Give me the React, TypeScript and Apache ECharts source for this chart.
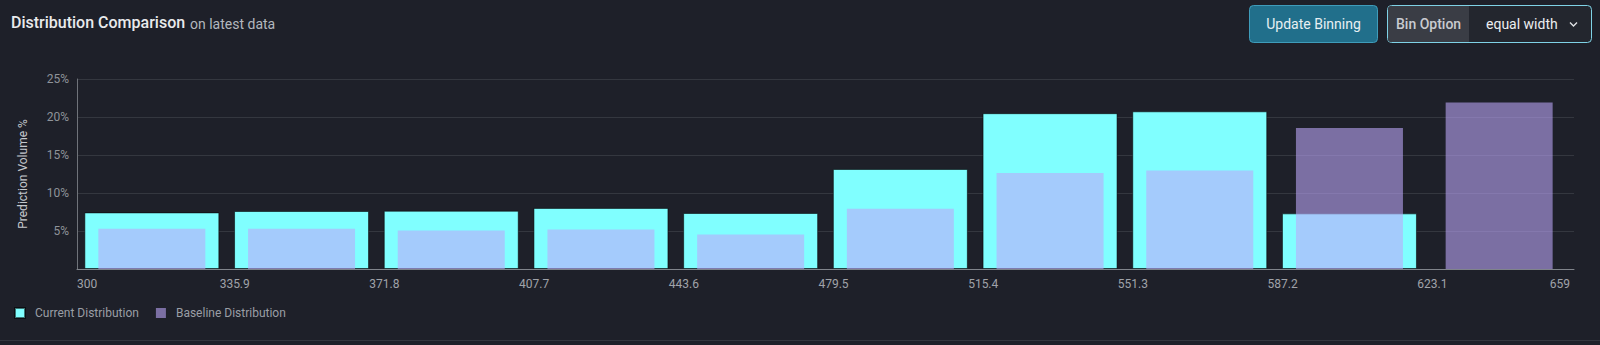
import React, { useEffect, useRef } from 'react';
import * as echarts from 'echarts';

const binEdges = ['300', '335.9', '371.8', '407.7', '443.6', '479.5', '515.4', '551.3', '587.2', '623.1', '659'];
const binCategories = binEdges.slice(0, -1).map((e, i) => `${e} - ${binEdges[i + 1]}`);
const currentValues = [7.45, 7.63, 7.67, 8.04, 7.37, 13.16, 20.5, 20.75, 7.32, 0];
const baselineValues = [5.3, 5.3, 5.08, 5.2, 4.54, 7.93, 12.63, 12.97, 18.55, 21.92];
const yMin = 0;
const yMax = 25;
const yInterval = 5;

const FONT = 'Roboto, "Noto Sans", sans-serif';
const BG = '#1e2029';

export default function App() {
  const ref = useRef<HTMLDivElement>(null);

  useEffect(() => {
    document.body.style.margin = '0';
    document.body.style.background = BG;
    const chart = echarts.init(ref.current!, undefined, { renderer: 'svg' });
    const lastIdx = binEdges.length - 1;
    chart.setOption({
      animation: false,
      backgroundColor: BG,
      textStyle: { fontFamily: FONT },
      grid: { left: 77, right: 26, top: 79, bottom: 76, containLabel: false },
      legend: {
        left: 14,
        top: 307,
        padding: 0,
        icon: 'rect',
        itemWidth: 10,
        itemHeight: 10,
        itemGap: 17,
        selectedMode: false,
        textStyle: { color: '#9a9ea5', fontSize: 12, fontFamily: FONT, padding: [0, 0, 0, 5] },
        data: ['Current Distribution', 'Baseline Distribution'],
      },
      xAxis: [
        { type: 'category', data: binCategories, show: false, position: 'bottom' },
        { type: 'category', data: binCategories, show: false, position: 'bottom' },
        {
          type: 'value',
          position: 'bottom',
          min: 0,
          max: lastIdx,
          interval: 1,
          axisLine: { show: true, lineStyle: { color: '#80848b', width: 1 } },
          axisTick: { show: false },
          splitLine: { show: false },
          axisLabel: {
            margin: 9,
            color: '#a0a3a9',
            fontSize: 12,
            fontFamily: FONT,
            alignMinLabel: 'left',
            alignMaxLabel: 'right',
            formatter: (v: number) => {
              const t = binEdges[Math.round(v)] ?? '';
              if (v === 0) return `{e|${t}}`;
              if (v === lastIdx) return `{r|${t}}`;
              return `{m|${t}}`;
            },
            rich: {
              e: { color: '#a0a3a9', fontSize: 12, fontFamily: FONT },
              r: { color: '#a0a3a9', fontSize: 12, fontFamily: FONT, padding: [0, 4, 0, 0] },
              m: { color: '#a0a3a9', fontSize: 12, fontFamily: FONT, padding: [0, 0, 0, 16] },
            },
          },
        },
      ],
      yAxis: [
        {
          type: 'value',
          min: yMin,
          max: yMax,
          interval: yInterval,
          name: 'Prediction Volume %',
          nameLocation: 'middle',
          nameGap: 48,
          nameTextStyle: { color: '#c5c8cd', fontSize: 12, fontFamily: FONT },
          axisLine: { show: false },
          axisTick: { show: false },
          splitLine: { show: true, lineStyle: { color: '#34373f', width: 1 } },
          axisLabel: {
            margin: 8,
            color: '#8f9399',
            fontSize: 12,
            fontFamily: FONT,
            formatter: '{value}%',
            showMinLabel: false,
          },
        },
        {
          type: 'value',
          min: 0,
          max: 25.8,
          position: 'left',
          axisLine: { show: true, lineStyle: { color: '#6f737a', width: 1 } },
          axisTick: { show: false },
          axisLabel: { show: false },
          splitLine: { show: false },
        },
      ],
      series: [
        {
          name: 'Current Distribution',
          type: 'bar',
          xAxisIndex: 0,
          yAxisIndex: 0,
          barWidth: 135,
          itemStyle: { color: '#80ffff', borderColor: 'rgba(0,0,0,0.55)', borderWidth: 1 },
          data: currentValues.map((v) => (v === 0 ? { value: v, itemStyle: { borderWidth: 0 } } : v)),
        },
        {
          name: 'Baseline Distribution',
          type: 'bar',
          xAxisIndex: 1,
          yAxisIndex: 0,
          barWidth: 107,
          itemStyle: { color: 'rgba(188,166,250,0.59)' },
          data: baselineValues,
        },
      ],
      graphic: [
        {
          type: 'text',
          left: 11,
          top: 14.5,
          style: { text: 'Distribution Comparison', fill: '#e9eaec', font: `500 16px ${FONT}` },
        },
        {
          type: 'text',
          left: 190,
          top: 16.5,
          style: { text: 'on latest data', fill: '#b3b7be', font: `400 14px ${FONT}` },
        },
        {
          type: 'rect',
          shape: { x: 1249.5, y: 5.5, width: 128, height: 37, r: 4 },
          style: { fill: '#216f8b', stroke: '#3f9cba', lineWidth: 1 },
        },
        {
          type: 'text',
          x: 1313.5,
          y: 24,
          style: { text: 'Update Binning', fill: '#e8eff3', font: `400 14px ${FONT}`, align: 'center', verticalAlign: 'middle' },
        },
        {
          type: 'rect',
          shape: { x: 1387.5, y: 5.5, width: 204, height: 37, r: 4 },
          style: { fill: '#23262e', stroke: '#7fd2e6', lineWidth: 1 },
        },
        {
          type: 'rect',
          shape: { x: 1388, y: 6, width: 81, height: 36, r: [3, 0, 0, 3] },
          style: { fill: '#3a3d45' },
        },
        {
          type: 'text',
          x: 1396,
          y: 24,
          style: { text: 'Bin Option', fill: '#c9cbd0', font: `500 14px ${FONT}`, align: 'left', verticalAlign: 'middle' },
        },
        {
          type: 'text',
          x: 1486,
          y: 24,
          style: { text: 'equal width', fill: '#eceef0', font: `400 14px ${FONT}`, align: 'left', verticalAlign: 'middle' },
        },
        {
          type: 'polyline',
          shape: { points: [[1570, 22.5], [1573.5, 26], [1577, 22.5]] },
          style: { stroke: '#dfe1e4', lineWidth: 1.4, fill: 'none' },
        },
        {
          type: 'line',
          shape: { x1: 0, y1: 340.5, x2: 1600, y2: 340.5 },
          style: { stroke: '#33363e', lineWidth: 1 },
        },
      ],
    });
    return () => chart.dispose();
  }, []);

  return <div ref={ref} style={{ width: 1600, height: 345 }} />;
}
